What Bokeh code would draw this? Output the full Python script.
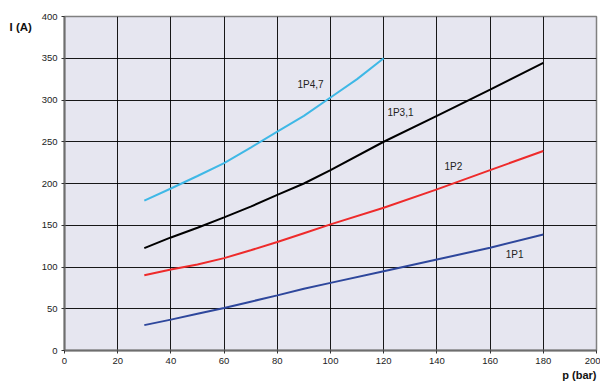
from bokeh.plotting import figure
from bokeh.models import Label, FixedTicker, Range1d, Title
from bokeh.embed import file_html
from bokeh.resources import INLINE

# data
p_main = [30, 40, 50, 60, 70, 80, 90, 100, 120, 140, 160, 180]
i_1p1 = [30.4, 37, 44, 51, 58.5, 66, 74, 81, 95, 109, 123, 139]
i_1p2 = [90, 97, 103, 110.6, 120, 130, 140.5, 151, 171, 193, 216, 239]
i_1p31 = [122.6, 135.4, 147, 159.5, 172.3, 186.3, 200, 216, 250, 281, 312.5, 344.5]
p_1p47 = [30, 40, 50, 60, 70, 80, 90, 100, 110, 120]
i_1p47 = [179.5, 194, 209, 224.4, 243, 262, 281, 303, 325, 350]

x_ticks = [0, 20, 40, 60, 80, 100, 120, 140, 160, 180, 200]
y_ticks = [0, 50, 100, 150, 200, 250, 300, 350, 400]

series_labels = ["1P4,7", "1P3,1", "1P2", "1P1"]
label_x = [92.5, 126.3, 146.2, 169.2]
label_y = [318, 284.5, 220, 115.4]

FONT = "Liberation Sans"

p = figure(width=600, height=383, output_backend="svg", toolbar_location=None,
           x_range=Range1d(0, 200), y_range=Range1d(0, 400),
           min_border_left=64, min_border_right=4, min_border_top=16, min_border_bottom=33)

p.background_fill_color = "#E6E6F0"
p.border_fill_color = "white"
p.outline_line_color = "#808080"
p.outline_line_width = 1.5

for ax, ticks in ((p.xaxis, x_ticks), (p.yaxis, y_ticks)):
    ax.ticker = FixedTicker(ticks=ticks)
    ax.minor_tick_line_color = None
    ax.major_tick_in = 0
    ax.major_tick_out = 3
    ax.major_tick_line_color = "#333333"
    ax.axis_line_color = "#6e6e6e"
    ax.axis_line_width = 2
    ax.major_label_text_font = FONT
    ax.major_label_text_font_size = "9.5px"
    ax.major_label_text_color = "#222222"
    ax.major_label_standoff = 4

p.xgrid.ticker = FixedTicker(ticks=x_ticks)
p.ygrid.ticker = FixedTicker(ticks=y_ticks)
p.grid.grid_line_color = "black"
p.grid.grid_line_width = 1
p.grid.grid_line_alpha = 0.9

p.line(p_main, i_1p1, line_color="#2E479C", line_width=2)
p.line(p_main, i_1p2, line_color="#EE2B2B", line_width=2)
p.line(p_main, i_1p31, line_color="black", line_width=2)
p.line(p_1p47, i_1p47, line_color="#3FB8E6", line_width=2)

for t, x, y in zip(series_labels, label_x, label_y):
    p.add_layout(Label(x=x, y=y, text=t, text_font=FONT, text_font_size="10px",
                       text_color="#222222", text_align="center", text_baseline="middle"))

p.add_layout(Label(x=9, y=26, x_units="canvas", y_units="canvas", text="I (A)",
                   text_font=FONT, text_font_size="11.5px", text_font_style="bold",
                   text_color="#111111", text_align="left", text_baseline="middle"), "left")
p.add_layout(Title(text="p (bar)", align="right", text_font=FONT, text_font_size="11px",
                   text_font_style="bold", text_color="#111111", standoff=0, offset=0), "below")

open("out.html", "w").write(file_html(p, INLINE))
